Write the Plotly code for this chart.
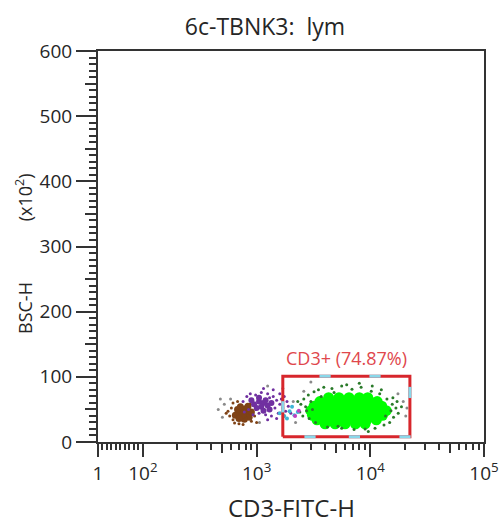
import math
import plotly.graph_objects as go

# ---------------- data ----------------
title_text = "6c-TBNK3:\u00a0\u00a0lym"
x_title = "CD3-FITC-H"
y_title = "BSC-H" + "\u00a0" * 13 + "(x10<sup>2</sup>)"
gate_label = "CD3+ (74.87%)"

x_tick_labels = ["1", "10<sup>2</sup>", "10<sup>3</sup>", "10<sup>4</sup>", "10<sup>5</sup>"]
y_tick_vals = [0, 100, 200, 300, 400, 500, 600]

# brown population (dense core + scattered events)
brown_core_x = [700, 760, 820, 740, 800, 680, 860, 720, 780, 900, 650, 840, 760, 700]
brown_core_y = [44, 47, 43, 39, 51, 50, 38, 54, 35, 46, 41, 55, 42, 36]
brown_x = [580, 600, 620, 640, 700, 760, 900, 960, 990, 620, 560, 1000, 540, 680, 880, 940]
brown_y = [40, 52, 34, 29, 28, 27, 32, 40, 52, 60, 47, 30, 44, 62, 58, 56]

# purple population
purple_core_x = [950, 1050, 1150, 1250, 1000, 1100, 1200, 1350, 1050, 1150, 1300, 900]
purple_core_y = [58, 62, 60, 56, 52, 54, 64, 60, 68, 48, 50, 64]
purple_x = [760, 820, 880, 980, 1100, 1250, 1400, 1500, 1600, 1700, 1800, 1450, 1550, 1650,
            1350, 1200, 1050, 1900, 2000, 1750, 1400, 1150, 850, 780, 930, 1300, 1600, 1850,
            1250, 1500]
purple_y = [62, 70, 74, 72, 76, 74, 70, 64, 58, 52, 47, 52, 44, 66,
            40, 42, 44, 55, 44, 70, 80, 82, 50, 46, 42, 68, 74, 62,
            34, 36]

# CD3+ (green) population: dense core
cd3_core_x = [4300, 5300, 6500, 8000, 9500,
              3600, 4400, 5400, 6600, 8100, 9900, 11500,
              3200, 3900, 4800, 5900, 7200, 8800, 10700, 12600,
              3000, 3600, 4400, 5400, 6600, 8100, 9900, 12000, 13800,
              3100, 3800, 4700, 5800, 7100, 8700, 10600, 12800,
              3400, 4200, 5100, 6200, 7600, 9300, 11300,
              4000, 4900, 6000, 7400, 9000]
cd3_core_y = [68, 68, 68, 68, 68,
              62, 62, 62, 62, 62, 62, 62,
              55, 55, 55, 55, 55, 55, 55, 55,
              48, 48, 48, 48, 48, 48, 48, 48, 48,
              41, 41, 41, 41, 41, 41, 41, 41,
              34, 34, 34, 34, 34, 34, 34,
              28, 28, 28, 28, 28]
# CD3+ sparse events around the core
cd3_x = [2450, 2600, 2750, 2550, 2850, 2700, 3000, 3200, 3500, 3900,
         4600, 5600, 6900, 8300, 10200, 12100, 14000, 15600, 16800, 17600,
         16000, 14800, 15200, 13200, 11000, 9000, 7200, 5600, 4200, 3300,
         2900, 2400, 3700, 12500, 6200, 18800, 2300, 10400, 8000, 4800,
         15800, 13600, 3100, 5200, 9600, 17200]
cd3_y = [58, 66, 48, 40, 72, 54, 62, 77, 80, 84,
         82, 86, 81, 84, 78, 74, 66, 58, 52, 44,
         38, 30, 48, 26, 21, 20, 19, 21, 23, 30,
         36, 46, 70, 80, 88, 54, 62, 86, 90, 76,
         68, 40, 50, 24, 16, 62]

# other events
grey_x = [460, 500, 520, 590, 1060, 2100, 2200, 2600, 19500, 20500, 17500, 1700, 1250, 3000, 21000, 480]
grey_y = [50, 38, 58, 66, 30, 62, 30, 78, 62, 40, 74, 82, 86, 92, 52, 66]
cyan_x = [1600, 1750, 1950, 2150, 2300, 1850, 2050]
cyan_y = [44, 40, 47, 41, 46, 36, 54]
magenta_x = [2180, 2350]
magenta_y = [40, 48]

# gate (rectangle polygon) and its vertex handles
gate_x = [1700, 22300, 22300, 1700, 1700]
gate_y = [8, 8, 101, 101, 8]
handle_x = [4000, 11000, 2950, 7250, 20200, 22300, 1700]
handle_y = [101, 101, 8, 8, 8, 76, 54]
handle_sym = ["line-ew", "line-ew", "line-ew", "line-ew", "line-ew", "line-ns", "line-ns"]

# ---------------- axis helpers ----------------
X_LO_LOG = 1.605          # left edge of displayed range (labelled "1")
X_HI_LOG = 5.0
LIN_SPAN = 2.0 - X_LO_LOG  # linear (biexponential) region width in decades


def lin_region_pos(v):
    """Position of value v (1..100) in the linear part of the display, as a data value."""
    return 10 ** (2.0 - (100 - v) / 99.0 * LIN_SPAN)


x_major = [lin_region_pos(1), 100, 1000, 10000, 100000]
x_minor = [lin_region_pos(v) for v in range(10, 100, 10)]
for dec in (100, 1000, 10000):
    x_minor += [m * dec for m in (2, 3, 4, 6, 7, 8, 9)]
x_medium = [500, 5000, 50000]

y_minor = [v for v in range(0, 601, 10) if v % 50 != 0]
y_medium = [v for v in range(50, 600, 100)]

FONT = "Open Sans"
TXT = "#262626"
AX = "#333333"
W, H = 502, 523
ML, MR, MT, MB = 98, 18, 51, 81
PW, PH = W - ML - MR, H - MT - MB

fig = go.Figure()


def pts(x, y, color, size, name, axis=("x", "y")):
    fig.add_trace(go.Scatter(x=x, y=y, mode="markers", name=name, showlegend=False,
                             xaxis=axis[0], yaxis=axis[1],
                             marker=dict(color=color, size=size, line=dict(width=0))))


pts(grey_x, grey_y, "#8a8a8a", 3, "other")
pts(cd3_core_x, cd3_core_y, "#00ff00", 11, "CD3+")
pts(cd3_x, cd3_y, "#2a7a2a", 3, "CD3+ sparse")
pts(brown_x, brown_y, "#7f4216", 3, "brown sparse")
pts(brown_core_x, brown_core_y, "#7f4216", 7, "brown")
pts(purple_x, purple_y, "#7030a0", 3, "purple sparse")
pts(purple_core_x, purple_core_y, "#7030a0", 6, "purple")
pts(cyan_x, cyan_y, "#3fb7d6", 4, "cyan")
pts(magenta_x, magenta_y, "#c03fc0", 4, "magenta")

fig.add_trace(go.Scatter(x=gate_x, y=gate_y, mode="lines", showlegend=False,
                         xaxis="x2", yaxis="y2",
                         line=dict(color="#d7262c", width=3)))
fig.add_trace(go.Scatter(x=handle_x, y=handle_y, mode="markers", showlegend=False,
                         xaxis="x2", yaxis="y2",
                         marker=dict(symbol=handle_sym, size=8,
                                     line=dict(color="#8ad8ea", width=3))))

fig.add_annotation(x=math.log10(math.sqrt(gate_x[0] * gate_x[1])), y=gate_y[2],
                   xref="x", yref="y", text=gate_label, showarrow=False,
                   yanchor="bottom", yshift=4,
                   font=dict(family=FONT, size=18, color="#e0474c"))

# axis titles (placed as paper annotations)
fig.add_annotation(x=0.5, y=-(507 - (H - MB)) / PH, xref="paper", yref="paper",
                   text=x_title, showarrow=False, xanchor="center", yanchor="middle",
                   font=dict(family=FONT, size=24, color=TXT))
fig.add_annotation(x=(24 - ML) / PW, y=((H - MB) - 254) / PH, xref="paper", yref="paper",
                   text=y_title, showarrow=False, textangle=-90,
                   xanchor="center", yanchor="middle",
                   font=dict(family=FONT, size=18, color=TXT))

common_x = dict(type="log", range=[X_LO_LOG, X_HI_LOG], showgrid=False, zeroline=False,
                automargin=False)
common_y = dict(range=[0, 600], showgrid=False, zeroline=False, automargin=False)

fig.update_layout(
    width=W, height=H,
    margin=dict(l=ML, r=MR, t=MT, b=MB),
    paper_bgcolor="white", plot_bgcolor="white",
    font=dict(family=FONT, color=TXT),
    title=dict(text=title_text, x=265 / W, xanchor="center", xref="container",
               y=1 - 27 / H, yanchor="middle",
               font=dict(family=FONT, size=23, color=TXT)),
    xaxis=dict(**common_x, tickmode="array", tickvals=x_major, ticktext=x_tick_labels,
               ticks="outside", ticklen=13, tickwidth=2, tickcolor=AX,
               showline=True, linecolor=AX, linewidth=2, mirror=True,
               tickfont=dict(family=FONT, size=19, color=TXT),
               minor=dict(tickvals=x_minor, ticks="outside", ticklen=6, tickwidth=1.5, tickcolor=AX)),
    yaxis=dict(**common_y, tickmode="array", tickvals=y_tick_vals,
               ticks="outside", ticklen=20, tickwidth=2, tickcolor=AX,
               showline=True, linecolor=AX, linewidth=2, mirror=True,
               tickfont=dict(family=FONT, size=19, color=TXT),
               minor=dict(tickvals=y_minor, ticks="outside", ticklen=7, tickwidth=1.5, tickcolor=AX)),
    xaxis2=dict(**common_x, overlaying="x", anchor="y", side="bottom",
                tickmode="array", tickvals=x_medium, ticks="outside", ticklen=10,
                tickwidth=1.5, tickcolor=AX, showticklabels=False, showline=False),
    yaxis2=dict(**common_y, overlaying="y", anchor="x", side="left",
                tickmode="array", tickvals=y_medium, ticks="outside", ticklen=12,
                tickwidth=1.5, tickcolor=AX, showticklabels=False, showline=False),
)

fig.write_html("out.html")
